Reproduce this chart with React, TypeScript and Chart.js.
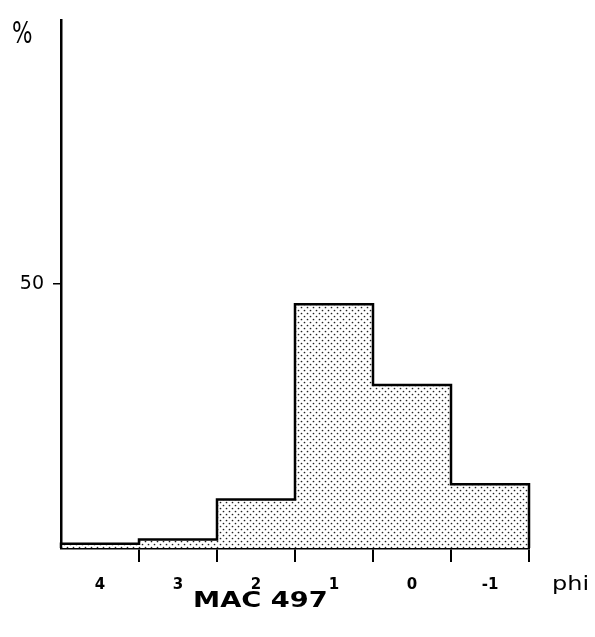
import React, { useEffect, useRef } from "react";
import { Chart, registerables } from "chart.js";

Chart.register(...registerables);

const phiClasses = ["4", "3", "2", "1", "0", "-1"];
const percentValues = [0.8, 1.6, 9.2, 46.2, 30.9, 12.1];
const yTickValues = [50];
const yMin = 0;
const yMax = 100;
const sampleName = "MAC 497";
const xAxisTitle = "phi";
const yAxisTitle = "%";

function makeDotPattern(): CanvasPattern | string {
  const tile = document.createElement("canvas");
  tile.width = 6;
  tile.height = 6;
  const c = tile.getContext("2d");
  if (!c) return "#ddd";
  c.fillStyle = "#ffffff";
  c.fillRect(0, 0, 6, 6);
  c.fillStyle = "#222222";
  c.beginPath();
  c.arc(1.5, 1.5, 0.85, 0, Math.PI * 2);
  c.arc(4.5, 4.5, 0.85, 0, Math.PI * 2);
  c.fill();
  const p = c.createPattern(tile, "repeat");
  return p || "#ddd";
}

const outlinePlugin = {
  id: "histOutline",
  afterDatasetsDraw(chart: any) {
    const meta = chart.getDatasetMeta(0);
    const ctx: CanvasRenderingContext2D = chart.ctx;
    const base = chart.scales.y.getPixelForValue(0);
    ctx.save();
    ctx.beginPath();
    const n = meta.data.length;
    meta.data.forEach((bar: any, i: number) => {
      const { x, y, width } = bar.getProps(["x", "y", "width"], true);
      const l = x - width / 2;
      const r = x + width / 2;
      if (i === 0) ctx.moveTo(l, base);
      ctx.lineTo(l, y);
      ctx.lineTo(r, y);
      if (i === n - 1) ctx.lineTo(r, base);
    });
    ctx.lineWidth = 2.5;
    ctx.strokeStyle = "#000";
    ctx.lineJoin = "miter";
    ctx.stroke();
    ctx.restore();
  },
};

const textPlugin = {
  id: "extraTexts",
  afterDraw(chart: any) {
    const ctx: CanvasRenderingContext2D = chart.ctx;
    ctx.save();
    ctx.fillStyle = "#000";
    ctx.textBaseline = "alphabetic";
    ctx.textAlign = "left";

    ctx.save();
    ctx.translate(12, 43);
    ctx.scale(0.72, 1);
    ctx.font = "30px 'DejaVu Sans'";
    ctx.fillText(yAxisTitle, 0, 0);
    ctx.restore();

    ctx.save();
    ctx.translate(552, 590);
    ctx.scale(1.2, 1);
    ctx.font = "20px 'DejaVu Sans'";
    ctx.fillText(xAxisTitle, 0, 0);
    ctx.restore();

    ctx.save();
    ctx.translate(193, 607);
    ctx.scale(1.3, 1);
    ctx.font = "bold 21px 'DejaVu Sans'";
    ctx.fillText(sampleName, 0, 0);
    ctx.restore();

    ctx.restore();
  },
};

export default function App() {
  const canvasRef = useRef<HTMLCanvasElement | null>(null);

  useEffect(() => {
    const canvas = canvasRef.current;
    if (!canvas) return;
    const pattern = makeDotPattern();
    const chart = new Chart(canvas, {
      type: "bar",
      data: {
        labels: phiClasses,
        datasets: [
          {
            data: percentValues,
            backgroundColor: pattern as any,
            borderWidth: 0,
            barPercentage: 1,
            categoryPercentage: 1,
          },
        ],
      },
      options: {
        responsive: false,
        animation: false,
        events: [],
        layout: { padding: { top: 17, right: 66, left: 0, bottom: 0 } },
        plugins: {
          legend: { display: false },
          tooltip: { enabled: false },
          title: { display: false },
        },
        scales: {
          x: {
            type: "category",
            offset: true,
            afterFit(scale: any) {
              scale.height = 89;
            },
            border: { display: true, color: "#000", width: 2.5 },
            grid: {
              offset: true,
              drawOnChartArea: false,
              drawTicks: true,
              tickLength: 14,
              lineWidth: 2,
              color: (ctx: any) => (ctx.index === 0 ? "rgba(0,0,0,0)" : "#000"),
            },
            ticks: {
              color: "#000",
              padding: 14,
              maxRotation: 0,
              font: { family: "'DejaVu Sans'", size: 15, weight: "bold" },
            },
          },
          y: {
            min: yMin,
            max: yMax,
            afterFit(scale: any) {
              scale.width = 61;
            },
            afterBuildTicks(scale: any) {
              scale.ticks = yTickValues.map((v) => ({ value: v }));
            },
            border: { display: true, color: "#000", width: 2.5 },
            grid: {
              drawOnChartArea: false,
              drawTicks: true,
              tickLength: 8,
              lineWidth: 1.5,
              color: "#000",
            },
            ticks: {
              color: "#000",
              padding: 9,
              font: { family: "'DejaVu Sans'", size: 19 },
              callback: (v: any) => String(v),
            },
          },
        },
      },
      plugins: [outlinePlugin, textPlugin],
    });
    return () => chart.destroy();
  }, []);

  return (
    <div style={{ position: "absolute", left: 0, top: 0, width: 595, height: 637, background: "#fff" }}>
      <canvas ref={canvasRef} width={595} height={637} style={{ display: "block" }} />
    </div>
  );
}
